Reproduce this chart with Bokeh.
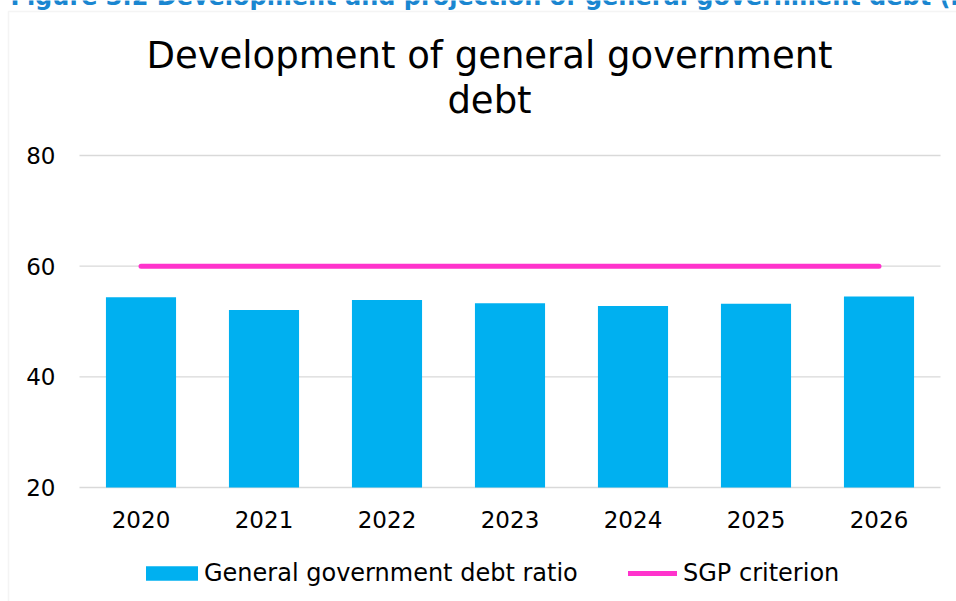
from bokeh.plotting import figure
from bokeh.models import (Legend, LegendItem, Label, ColumnDataSource,
                          BoxAnnotation, Range1d)
from bokeh.core.properties import value
from bokeh.embed import file_html
from bokeh.resources import INLINE

# ---- data ----
years = ["2020", "2021", "2022", "2023", "2024", "2025", "2026"]
debt_ratio = [54.4, 52.1, 53.9, 53.3, 52.8, 53.2, 54.5]
sgp_criterion = [60, 60, 60, 60, 60, 60, 60]
y_ticks = [20, 40, 60, 80]
y_tick_labels = ["20", "40", "60", "80"]
title_lines = ["Development of general government", "debt"]
caption = "Figure 3.2 Development and projection of general government debt (in % of GDP)"
series_names = ["General government debt ratio", "SGP criterion"]

# ---- layout (pixels) ----
FONT = "DejaVu Sans"
W, H = 956, 601
PLOT_L, PLOT_R, PLOT_T, PLOT_B = 79, 940, 155, 487   # plotting area in canvas pixels
Y_MIN, Y_MAX = 20, 80

n = len(years)
idx = list(range(n))
cat_w = (PLOT_R - PLOT_L) / n
y_scale = (PLOT_B - PLOT_T) / (Y_MAX - Y_MIN)
x_range = Range1d(-0.5 - PLOT_L / cat_w, -0.5 + (W - PLOT_L) / cat_w)
y_range = Range1d(Y_MIN - (H - PLOT_B) / y_scale, Y_MIN + PLOT_B / y_scale)

p = figure(width=W, height=H, x_range=x_range, y_range=y_range,
           x_axis_type=None, y_axis_type=None,
           output_backend="svg", toolbar_location=None,
           min_border=0)
p.outline_line_color = None
p.background_fill_color = "white"
p.border_fill_color = "white"

# horizontal gridlines at the value-axis ticks
p.segment(x0=[-0.5] * len(y_ticks), x1=[n - 0.5] * len(y_ticks),
          y0=y_ticks, y1=y_ticks, line_color="#D9D9D9", line_width=1.3)

src = ColumnDataSource(dict(x=idx, year=years, debt=debt_ratio, sgp=sgp_criterion))
bars = p.vbar(x="x", top="debt", bottom=Y_MIN, width=0.57, source=src,
              fill_color="#00B0F0", line_color=None)
line = p.line(x="x", y="sgp", source=src, line_color="#FF33CC",
              line_width=5, line_cap="round")

# tick labels
p.text(x=[-0.5] * len(y_ticks), y=y_ticks, text=y_tick_labels, x_offset=-24,
       text_align="right", text_baseline="middle", text_font=value(FONT),
       text_font_size="23px", text_color="#000000")
p.text(x=idx, y=[Y_MIN] * n, text=years, y_offset=32,
       text_align="center", text_baseline="middle", text_font=value(FONT),
       text_font_size="23px", text_color="#000000")

# legends (one per entry, so each key can have its own size)
common = dict(orientation="horizontal", label_text_font=FONT,
              label_text_font_size="24px", label_text_color="#000000",
              padding=0, margin=0, border_line_color=None,
              background_fill_alpha=0)
legend_bar = Legend(items=[LegendItem(label=series_names[0], renderers=[bars])],
                    location=(139, 14), glyph_width=65, glyph_height=18,
                    label_standoff=0, **common)
legend_line = Legend(items=[LegendItem(label=series_names[1], renderers=[line])],
                     location=(628, 14), glyph_width=49, glyph_height=18,
                     label_standoff=6, **common)
p.add_layout(legend_bar, "center")
p.add_layout(legend_line, "center")

# outer chart box (left and top edges visible)
p.add_layout(BoxAnnotation(left=8, right=W + 50, top=H - 11, bottom=-50,
                           left_units="screen", right_units="screen",
                           top_units="screen", bottom_units="screen",
                           fill_alpha=0, line_color="#D9D9D9", line_width=1.5))

# title
for i, t in enumerate(title_lines):
    p.add_layout(Label(x=489, y=H - 55 - 45 * i, x_units="screen", y_units="screen",
                       text=t, text_font=FONT, text_font_size="37px",
                       text_align="center", text_baseline="middle",
                       text_color="#000000"))

# clipped caption at the very top
p.add_layout(Label(x=10, y=H + 4, x_units="screen", y_units="screen",
                   text=caption, text_font=FONT, text_font_size="24px",
                   text_font_style="bold", text_align="left",
                   text_baseline="alphabetic", text_color="#1A86D0"))

open("out.html", "w").write(file_html(p, INLINE))
